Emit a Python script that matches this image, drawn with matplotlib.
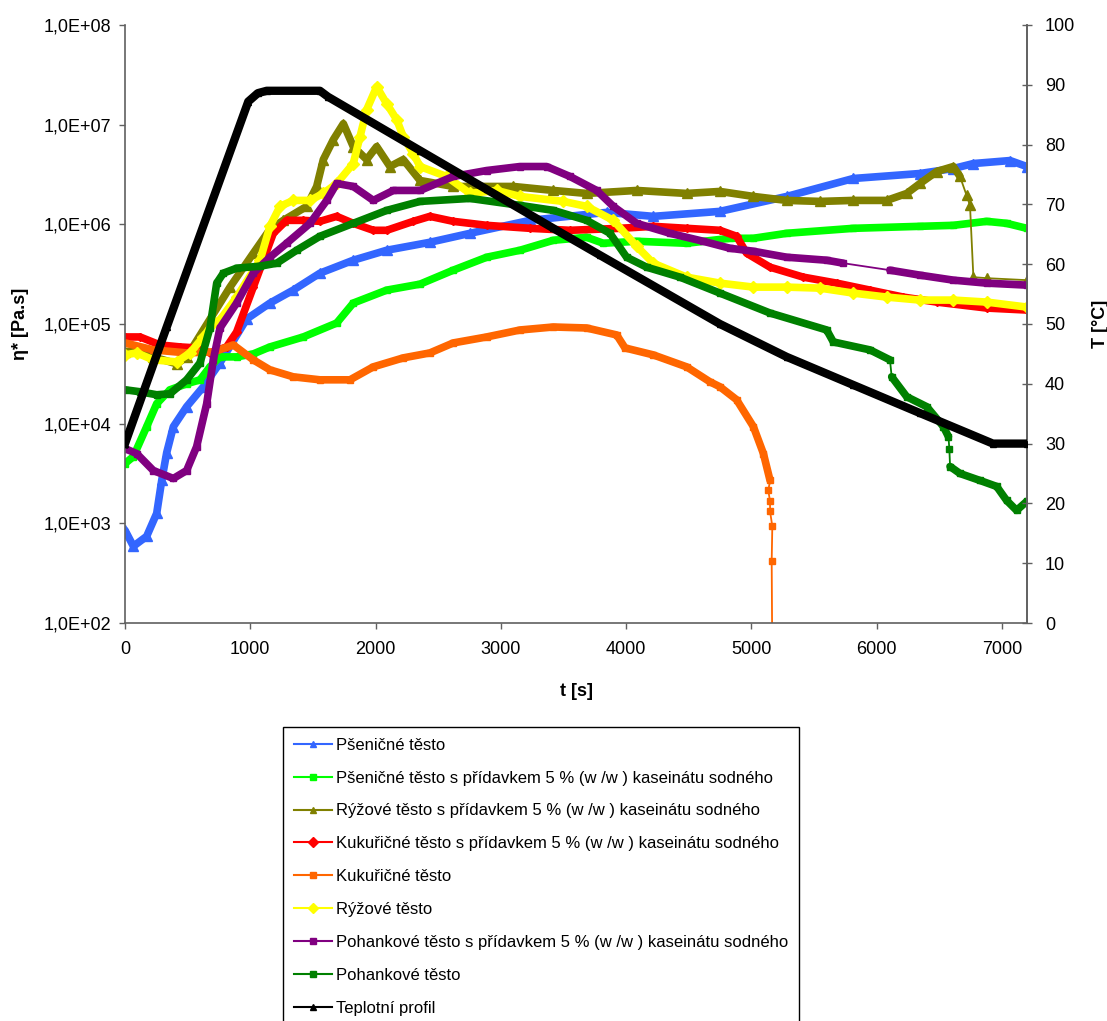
import matplotlib
matplotlib.use("Agg")
import matplotlib.pyplot as plt
from matplotlib.lines import Line2D
from matplotlib.ticker import FuncFormatter, MultipleLocator
import numpy as np

plt.rcParams['font.family'] = ['Liberation Sans', 'DejaVu Sans']

# --- data: time [s], log10(eta* [Pa.s]) ---
blue_t = [0, 67, 173, 253, 293, 333, 386, 492, 625, 758, 971, 1157, 1343, 1556, 1822, 2089, 2434,
          2754, 3233, 3845, 4217, 4749, 5282, 5814, 6346, 6612, 6772, 7065, 7198]
blue_l = [2.93, 2.77, 2.87, 3.10, 3.43, 3.71, 3.97, 4.17, 4.37, 4.61, 5.05, 5.21, 5.34, 5.51, 5.64,
          5.74, 5.82, 5.91, 6.04, 6.12, 6.08, 6.13, 6.28, 6.46, 6.51, 6.56, 6.61, 6.64, 6.58]

green_t = [0, 67, 173, 253, 359, 492, 599, 678, 758, 891, 1024, 1157, 1423, 1690, 1822, 2089, 2355,
           2620, 2887, 3153, 3419, 3685, 3818, 4084, 4483, 4829, 5016, 5282, 5814, 6346, 6612, 6878,
           7037, 7198]
green_l = [3.60, 3.67, 3.97, 4.20, 4.34, 4.40, 4.44, 4.57, 4.67, 4.67, 4.70, 4.77, 4.87, 5.01, 5.21,
           5.34, 5.40, 5.54, 5.67, 5.74, 5.84, 5.87, 5.81, 5.83, 5.81, 5.86, 5.86, 5.91, 5.96, 5.98,
           5.99, 6.03, 6.01, 5.96]

olive_t = [0, 93, 226, 413, 492, 625, 838, 1024, 1157, 1264, 1450, 1530, 1583, 1663, 1743, 1822,
           1929, 2009, 2115, 2221, 2355, 2620, 3100, 3419, 3685, 4084, 4483, 4749, 5016, 5282, 5548,
           5814, 6080, 6240, 6346, 6479, 6612, 6665, 6718, 6745, 6772, 6878, 7198]
olive_l = [4.72, 4.74, 4.67, 4.60, 4.67, 4.94, 5.37, 5.71, 5.95, 6.04, 6.18, 6.38, 6.65, 6.85, 7.01,
           6.78, 6.65, 6.78, 6.58, 6.65, 6.44, 6.38, 6.38, 6.34, 6.31, 6.34, 6.31, 6.33, 6.28, 6.24,
           6.23, 6.24, 6.24, 6.31, 6.41, 6.53, 6.58, 6.48, 6.29, 6.19, 5.47, 5.46, 5.44]

red_t = [0, 120, 279, 439, 572, 678, 811, 891, 1024, 1104, 1184, 1290, 1423, 1556, 1690, 1822, 1982,
         2089, 2301, 2434, 2620, 2887, 3233, 3552, 3951, 4217, 4483, 4749, 4882, 4962, 5149, 5415,
         5681, 5947, 6213, 6479, 6878, 7198]
red_l = [4.87, 4.87, 4.79, 4.77, 4.76, 4.71, 4.77, 4.92, 5.37, 5.64, 5.91, 6.04, 6.04, 6.03, 6.08,
         6.01, 5.94, 5.94, 6.03, 6.08, 6.03, 5.99, 5.96, 5.94, 5.96, 5.98, 5.96, 5.94, 5.88, 5.71,
         5.57, 5.47, 5.41, 5.34, 5.27, 5.22, 5.16, 5.14]

orange_t = [0, 226, 492, 705, 865, 1024, 1157, 1343, 1556, 1796, 1982, 2221, 2434, 2620, 2887, 3153,
            3419, 3685, 3925, 3991, 4217, 4483, 4669, 4749, 4882, 5016, 5096, 5149, 5135, 5149, 5149,
            5167, 5162, 5170]
orange_l = [4.81, 4.74, 4.71, 4.72, 4.79, 4.64, 4.54, 4.47, 4.44, 4.44, 4.57, 4.66, 4.71, 4.81, 4.87,
            4.94, 4.97, 4.96, 4.89, 4.76, 4.69, 4.57, 4.42, 4.37, 4.24, 3.97, 3.70, 3.43, 3.33, 3.22,
            3.12, 2.97, 2.62, 1.0]

yellow_t = [0, 93, 226, 413, 519, 625, 705, 758, 891, 1078, 1157, 1237, 1343, 1477, 1583, 1690, 1822,
            1876, 1929, 2009, 2089, 2169, 2221, 2301, 2355, 2567, 2754, 2967, 3153, 3499, 3685, 3898,
            4084, 4217, 4483, 4749, 5016, 5282, 5548, 5814, 6080, 6346, 6612, 6878, 7198]
yellow_l = [4.69, 4.71, 4.64, 4.62, 4.71, 4.87, 5.01, 5.04, 5.27, 5.64, 5.98, 6.18, 6.24, 6.24, 6.31,
            6.41, 6.61, 6.88, 7.15, 7.38, 7.21, 7.05, 6.88, 6.71, 6.58, 6.48, 6.31, 6.34, 6.28, 6.23,
            6.18, 6.04, 5.78, 5.61, 5.47, 5.41, 5.37, 5.37, 5.36, 5.31, 5.27, 5.24, 5.24, 5.22, 5.17]

purple_t = [0, 93, 226, 386, 492, 572, 652, 705, 758, 891, 1024, 1157, 1290, 1477, 1610, 1690, 1822,
            1982, 2142, 2355, 2620, 2887, 3153, 3366, 3552, 3765, 3898, 4084, 4350, 4616, 4829, 5016,
            5282, 5601, 5734, 6106, 6346, 6612, 6878, 7198]
purple_l = [3.75, 3.70, 3.53, 3.45, 3.53, 3.77, 4.20, 4.64, 4.96, 5.21, 5.51, 5.67, 5.81, 6.01, 6.24,
            6.41, 6.38, 6.24, 6.34, 6.34, 6.48, 6.54, 6.58, 6.58, 6.48, 6.34, 6.18, 6.01, 5.91, 5.83,
            5.76, 5.73, 5.67, 5.64, 5.61, 5.54, 5.49, 5.44, 5.41, 5.39]

dkgreen_t = [0, 120, 253, 359, 492, 599, 678, 732, 785, 891, 1078, 1211, 1370, 1556, 1822, 2089, 2355,
             2754, 3153, 3419, 3685, 3871, 4004, 4164, 4430, 4749, 5149, 5601, 5654, 5947, 6106, 6120,
             6240, 6400, 6533, 6573, 6580, 6586, 6665, 6825, 6958, 7037, 7117, 7198]
dkgreen_l = [4.34, 4.32, 4.29, 4.30, 4.44, 4.61, 4.96, 5.41, 5.51, 5.56, 5.58, 5.61, 5.74, 5.88, 6.01,
             6.14, 6.23, 6.26, 6.19, 6.14, 6.04, 5.91, 5.67, 5.57, 5.47, 5.31, 5.11, 4.94, 4.82, 4.74,
             4.64, 4.47, 4.27, 4.17, 3.97, 3.87, 3.75, 3.57, 3.50, 3.43, 3.37, 3.23, 3.13, 3.22]

# temperature profile [°C]
temp_t = [0, 333, 984, 1060, 1131, 1556, 1620, 2355, 2887, 3419, 3792, 4749, 5282, 5814, 6346, 6928, 7200]
temp_v = [30, 49.5, 87.2, 88.6, 89, 89, 88, 79, 72.5, 66, 61.5, 50, 44.5, 39.8, 35.1, 30, 30]

labels = [
    "Pšeničné těsto",
    "Pšeničné těsto s přídavkem 5 % (w /w ) kaseinátu sodného",
    "Rýžové těsto s přídavkem 5 % (w /w ) kaseinátu sodného",
    "Kukuřičné těsto s přídavkem 5 % (w /w ) kaseinátu sodného",
    "Kukuřičné těsto",
    "Rýžové těsto",
    "Pohankové těsto s přídavkem 5 % (w /w ) kaseinátu sodného",
    "Pohankové těsto",
    "Teplotní profil",
]

# (t, log-values, colour, marker, marker size, index ranges drawn thick)
series = [
    (blue_t, blue_l, '#3366FF', '^', 7, [(0, None)]),
    (green_t, green_l, '#00FF00', 's', 5, [(0, None)]),
    (olive_t, olive_l, '#808000', '^', 7, [(0, 38)]),
    (red_t, red_l, '#FF0000', 'D', 4.5, [(0, None)]),
    (orange_t, orange_l, '#FF6600', 's', 5, [(0, 28)]),
    (yellow_t, yellow_l, '#FFFF00', 'D', 6, [(0, None)]),
    (purple_t, purple_l, '#800080', 's', 5, [(0, 35), (35, None)]),
    (dkgreen_t, dkgreen_l, '#008000', 's', 5, [(0, 31), (31, 36), (37, None)]),
]

fig = plt.figure(figsize=(11.07, 10.21), dpi=100)
ax = fig.add_axes([125 / 1107, 1 - 623 / 1021, 902 / 1107, 598 / 1021])

for t, lg, col, mk, ms, segs in series:
    t = np.array(t, dtype=float)
    v = np.power(10.0, np.array(lg))
    for a, b in segs:
        ax.plot(t[a:b], v[a:b], color=col, lw=5.5, solid_capstyle='round',
                solid_joinstyle='round', zorder=2)
    ax.plot(t, v, color=col, lw=1.3, marker=mk, ms=ms, mec=col, mfc=col, zorder=2)

ax.set_yscale('log')
ax.set_ylim(1e2, 1e8)
ax.set_xlim(0, 7200)
ax.xaxis.set_major_locator(MultipleLocator(1000))
ax.yaxis.set_major_formatter(FuncFormatter(lambda v, p: f"{v:.1E}".replace('.', ',')))
ax.yaxis.set_minor_locator(plt.NullLocator())

ax2 = ax.twinx()
ax2.plot(temp_t, temp_v, color='black', lw=6, marker='^', ms=5,
         solid_joinstyle='round', zorder=3)
ax2.set_ylim(0, 100)
ax2.yaxis.set_major_locator(MultipleLocator(10))

for a in (ax, ax2):
    a.spines['top'].set_visible(False)
    for s in a.spines.values():
        s.set_color('#606060')
        s.set_linewidth(1.2)
ax2.spines['left'].set_visible(False)
ax2.spines['bottom'].set_visible(False)

ax.tick_params(axis='x', direction='out', length=4, width=1, color='#606060',
               labelsize=13, pad=9)
ax.tick_params(axis='y', direction='out', length=4, width=1, color='#606060',
               labelsize=13, pad=6)
ax2.tick_params(axis='y', direction='inout', length=7, width=1, color='#606060',
                labelsize=13, pad=9.5)

ax.set_xlabel("t [s]", fontsize=13, fontweight='bold', labelpad=18)
ax.set_ylabel("η* [Pa.s]", fontsize=13, fontweight='bold', labelpad=10)
ax2.set_ylabel("T [°C]", fontsize=13, fontweight='bold', labelpad=12)

markers = ['^', 's', '^', 'D', 's', 'D', 's', 's', '^']
colors = [s[2] for s in series] + ['black']
handles = [Line2D([], [], color=c, marker=m, ms=5, lw=1.5) for c, m in zip(colors, markers)]
leg = fig.legend(handles, labels, loc='upper left', bbox_to_anchor=(283 / 1107, 1 - 727 / 1021),
                 fontsize=12, frameon=True, fancybox=False, edgecolor='black',
                 framealpha=1, labelspacing=1.07, handlelength=2.3, handletextpad=0.25,
                 borderpad=0.65, borderaxespad=0)
leg.get_frame().set_linewidth(1.0)

fig.savefig("out.png", dpi=100)
